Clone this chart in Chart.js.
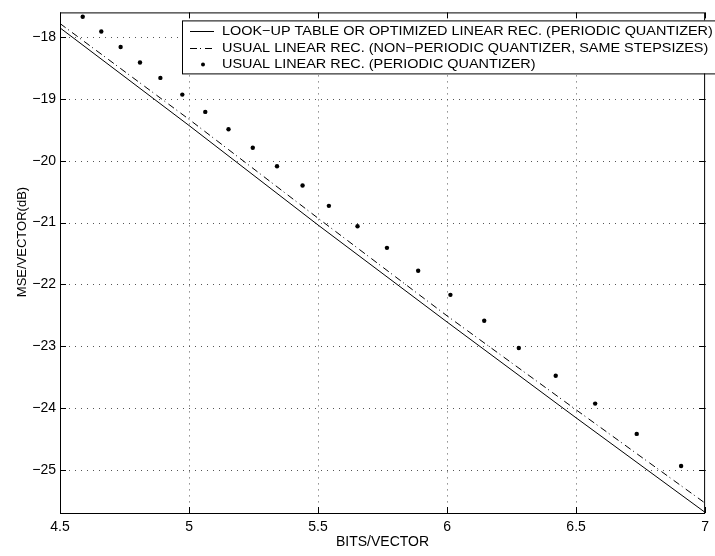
<!DOCTYPE html>
<html>
<head>
<meta charset="utf-8">
<script src="https://cdn.jsdelivr.net/npm/chart.js@4/dist/chart.umd.min.js"></script>
<style>
  body { margin: 0; background: #fff; }
  #wrap { width: 715px; height: 556px; }
</style>
</head>
<body>
<div id="wrap"><canvas id="mse" width="715" height="556"></canvas></div>
<script>
// data
const seriesNames = [
  'LOOK\u2212UP TABLE OR OPTIMIZED LINEAR REC. (PERIODIC QUANTIZER)',
  'USUAL LINEAR REC. (NON\u2212PERIODIC QUANTIZER, SAME STEPSIZES)',
  'USUAL LINEAR REC. (PERIODIC QUANTIZER)'
];
const lineBits = [4.5, 5, 5.5, 6, 6.5, 7];
const lookupMse = [-17.85, -19.43, -21.04, -22.61, -24.16, -25.69];
const nonPeriodicMse = [-17.78, -19.33, -20.93, -22.51, -24.03, -25.54];
const dotBits = [4.588, 4.660, 4.735, 4.810, 4.889, 4.974, 5.063, 5.153, 5.247, 5.341, 5.440,
                 5.542, 5.653, 5.767, 5.888, 6.013, 6.144, 6.278, 6.421, 6.574, 6.735, 6.907];
const dotMse = [-17.67, -17.91, -18.16, -18.41, -18.66, -18.93, -19.21, -19.49, -19.79, -20.09, -20.40,
                -20.73, -21.06, -21.41, -21.78, -22.17, -22.59, -23.03, -23.48, -23.93, -24.42, -24.94];
const xTicks = [4.5, 5, 5.5, 6, 6.5, 7];
const yTicks = [-25, -24, -23, -22, -21, -20, -19, -18];
const xTitle = 'BITS/VECTOR';
const yTitle = 'MSE/VECTOR(dB)';

const toPoints = (xs, ys) => xs.map((x, i) => ({ x: x, y: ys[i] }));
const FONT = '"Liberation Sans", Arial, Helvetica, sans-serif';

Chart.defaults.font.family = FONT;
Chart.defaults.font.size = 14;
Chart.defaults.color = '#000';

// dotted grid under the data, one pixel dot every 6px
const gridPlugin = {
  id: 'dotGrid',
  beforeDatasetsDraw(chart) {
    const ctx = chart.ctx;
    const a = chart.chartArea;
    const xs = chart.scales.x, ys = chart.scales.y;
    ctx.save();
    ctx.fillStyle = '#555';
    xTicks.slice(1, -1).forEach(v => {
      const px = Math.round(xs.getPixelForValue(v));
      for (let y = a.top + 3; y < a.bottom; y += 6) ctx.fillRect(px, y, 1, 1);
    });
    yTicks.forEach(v => {
      const py = Math.round(ys.getPixelForValue(v));
      for (let x = a.left + 3; x < a.right; x += 6) ctx.fillRect(x, py, 1, 1);
    });
    ctx.restore();
  }
};

// box, inward ticks, y title and the legend inside the axes
const framePlugin = {
  id: 'frame',
  afterDraw(chart) {
    const ctx = chart.ctx;
    const a = chart.chartArea;
    const xs = chart.scales.x, ys = chart.scales.y;
    ctx.save();
    ctx.strokeStyle = '#000';
    ctx.lineWidth = 1;
    ctx.strokeRect(a.left + 0.5, a.top + 0.5, a.right - a.left - 1, a.bottom - a.top);
    ctx.beginPath();
    xTicks.forEach(v => {
      const px = Math.round(xs.getPixelForValue(v)) + 0.5;
      ctx.moveTo(px, a.bottom); ctx.lineTo(px, a.bottom - 6);
      ctx.moveTo(px, a.top); ctx.lineTo(px, a.top + 6);
    });
    yTicks.forEach(v => {
      const py = Math.round(ys.getPixelForValue(v)) + 0.5;
      ctx.moveTo(a.left, py); ctx.lineTo(a.left + 6, py);
      ctx.moveTo(a.right, py); ctx.lineTo(a.right - 6, py);
    });
    ctx.stroke();

    // y title (sits a bit above the axes centre in the original)
    ctx.save();
    ctx.translate(22, 242);
    ctx.rotate(-Math.PI / 2);
    ctx.font = '13px ' + FONT;
    ctx.textAlign = 'center';
    ctx.textBaseline = 'middle';
    ctx.fillStyle = '#000';
    ctx.fillText(yTitle, 0, 0);
    ctx.restore();

    // legend
    const x0 = a.left + 122, y0 = a.top + 8, w = 540, h = 53;
    ctx.fillStyle = '#fff';
    ctx.fillRect(x0, y0, w, h);
    ctx.strokeRect(x0 + 0.5, y0 + 0.5, w, h);
    ctx.fillStyle = '#000';
    chart.data.datasets.forEach((ds, i) => {
      const cy = Math.round(y0 + 11 + i * 16.5) + 0.5;
      if (ds.showLine) {
        ctx.setLineDash(ds.borderDash || []);
        ctx.beginPath();
        ctx.moveTo(x0 + 8, cy); ctx.lineTo(x0 + 32, cy);
        ctx.stroke();
        ctx.setLineDash([]);
      } else {
        ctx.beginPath();
        ctx.arc(x0 + 21, cy, 2, 0, Math.PI * 2);
        ctx.fill();
      }
      // text in the original is a little wider than the font's natural width
      ctx.save();
      ctx.translate(x0 + 40, cy);
      ctx.scale(1.11, 1);
      ctx.font = '13px ' + FONT;
      ctx.textBaseline = 'middle';
      ctx.fillText(ds.label, 0, 0);
      ctx.restore();
    });
    ctx.restore();
  }
};

new Chart(document.getElementById('mse'), {
  type: 'scatter',
  data: {
    datasets: [
      {
        label: seriesNames[0],
        data: toPoints(lineBits, lookupMse),
        showLine: true,
        borderColor: '#000',
        borderWidth: 1,
        pointRadius: 0
      },
      {
        label: seriesNames[1],
        data: toPoints(lineBits, nonPeriodicMse),
        showLine: true,
        borderColor: '#000',
        borderWidth: 1,
        borderDash: [7, 3, 1, 4],
        pointRadius: 0
      },
      {
        label: seriesNames[2],
        data: toPoints(dotBits, dotMse),
        showLine: false,
        backgroundColor: '#000',
        borderWidth: 0,
        pointRadius: 2.2
      }
    ]
  },
  options: {
    responsive: false,
    animation: false,
    layout: { padding: { top: 5, right: 8, left: 0, bottom: 0 } },
    plugins: {
      legend: { display: false },
      tooltip: { enabled: false }
    },
    scales: {
      x: {
        type: 'linear',
        min: 4.5,
        max: 7,
        afterFit: s => { s.height = 43; },
        afterBuildTicks: s => { s.ticks = xTicks.map(v => ({ value: v })); },
        ticks: {
          padding: 6,
          maxRotation: 0,
          callback: v => String(v)
        },
        grid: { display: false, drawTicks: false },
        border: { display: false },
        title: {
          display: true,
          text: xTitle,
          padding: { top: 0, bottom: 5 }
        }
      },
      y: {
        type: 'linear',
        min: -25.7,
        max: -17.6,
        afterFit: s => { s.width = 60; },
        afterBuildTicks: s => { s.ticks = yTicks.map(v => ({ value: v })); },
        ticks: {
          padding: 4,
          callback: v => (v < 0 ? '\u2212' : '') + Math.abs(v)
        },
        grid: { display: false, drawTicks: false },
        border: { display: false },
        title: { display: false }
      }
    }
  },
  plugins: [gridPlugin, framePlugin]
});
</script>
</body>
</html>
